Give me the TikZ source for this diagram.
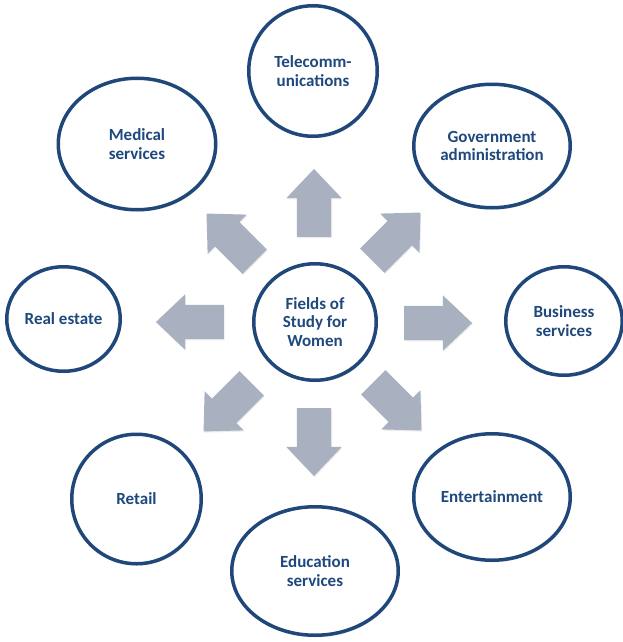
\documentclass[tikz,border=0pt]{standalone}
\usepackage{fontspec}
\setmainfont{Carlito}
\usetikzlibrary{shapes.geometric,shapes.arrows,shadows}
\definecolor{ringblue}{HTML}{1F477A}
\definecolor{textblue}{HTML}{1F497D}
\definecolor{arrowgray}{HTML}{A9B0BF}

\begin{document}
\begin{tikzpicture}[x=1pt,y=-1pt]
\useasboundingbox (0,0) rectangle (623,642);
			% block arrows pointing out of the middle
			\begin{scope}[every node/.style={single arrow,fill=arrowgray,inner xsep=0pt,inner ysep=17pt,
              minimum height=68pt,single arrow head extend=10.5pt,single arrow tip angle=87,
              drop shadow={opacity=0.15,shadow xshift=0.8pt,shadow yshift=-1.2pt}}]
    \node[rotate=90] (aN) at (314,212) {};
    \node[rotate=45] (aNE) at (390,243) {};
    \node[rotate=0] (aE) at (429,323) {};
    \node[rotate=-45] (aSE) at (391,400) {};
    \node[rotate=-90] (aS) at (314,433) {};
    \node[rotate=-135] (aSW) at (234,401) {};
    \node[rotate=180] (aW) at (199,322) {};
    \node[rotate=135] (aNW) at (237,244) {};
			\end{scope}
			% the rings
			\begin{scope}[every node/.style={ellipse,draw=ringblue,line width=3.5pt,fill=white,inner sep=0pt,
              align=center,text=textblue,font=\fontsize{17}{18.8}\selectfont\bfseries,
              drop shadow={opacity=0.18,shadow xshift=1pt,shadow yshift=-2pt}}]
    \node[minimum width=122.5pt,minimum height=116.5pt] (W) at (315,322) {Fields of\\Study for\\Women};
    \node[minimum width=128.5pt,minimum height=130.5pt] (T) at (313,71) {Telecomm-\\unications};
    \node[minimum width=156.5pt,minimum height=123.5pt] (G) at (492,146) {Government\\administration};
    \node[minimum width=116.5pt,minimum height=108.5pt] (B) at (564,321) {Business\\services};
    \node[minimum width=156.5pt,minimum height=126.5pt] (E) at (492,497) {Entertainment};
    \node[minimum width=166.5pt,minimum height=128.5pt] (Ed) at (315,571) {Education\\services};
    \node[minimum width=129.5pt,minimum height=129.5pt] (R) at (136.5,499) {Retail};
    \node[minimum width=113.5pt,minimum height=104.5pt] (RE) at (63.5,319) {Real estate};
    \node[minimum width=157.5pt,minimum height=131.5pt] (M) at (137,144) {Medical\\services};
			\end{scope}
		\end{tikzpicture}
\end{document}
